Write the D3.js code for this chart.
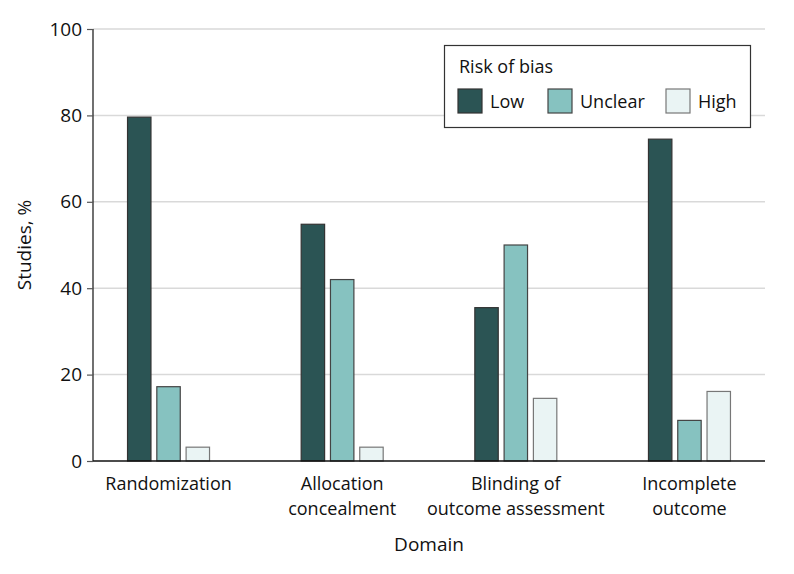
<!DOCTYPE html>
<html><head><meta charset="utf-8">
<script src="https://cdn.jsdelivr.net/npm/d3@7"></script>
<style>body{margin:0;background:#fff}svg{display:block}text{font-family:"Open Sans",sans-serif;fill:#111}</style>
</head><body><svg id="c" width="794" height="574"></svg>
<script>
const categories = [["Randomization"], ["Allocation", "concealment"], ["Blinding of", "outcome assessment"], ["Incomplete", "outcome"]];
const series = ["Low", "Unclear", "High"];
const lowValues = [79.6, 54.8, 35.5, 74.5];
const unclearValues = [17.2, 42.0, 50.0, 9.4];
const highValues = [3.2, 3.2, 14.5, 16.1];
const yTicks = [0, 20, 40, 60, 80, 100];
const colors = {Low: "#2b5454", Unclear: "#86c2c0", High: "#eaf4f4"};
const strokes = {Low: "#333", Unclear: "#444", High: "#777"};

const svg = d3.select("#c");
const L = 93, R = 765, T = 29, B = 461;
const catKeys = categories.map(c => c.join(" "));
const x0 = d3.scalePoint().domain(catKeys).range([L, R]).padding(0.435);
const x1 = d3.scaleBand().domain(series).range([-41, 41]).paddingInner(0.2);
const y = d3.scaleLinear().domain([0, 100]).range([B, T]);
const valuesBy = {Low: lowValues, Unclear: unclearValues, High: highValues};

// gridlines
svg.append("g").selectAll("line").data(yTicks.filter(d => d > 0)).join("line")
  .attr("x1", L).attr("x2", R).attr("y1", d => y(d)).attr("y2", d => y(d))
  .attr("stroke", "#d9d9d9").attr("stroke-width", 1.5);

// y axis
const ya = svg.append("g").attr("transform", `translate(${L},0)`)
  .call(d3.axisLeft(y).tickValues(yTicks).tickSize(6).tickPadding(5));
ya.select(".domain").attr("stroke", "#111").attr("stroke-width", 1.2).attr("d", `M0,${T}V${B}`);
ya.selectAll(".tick line").attr("stroke", "#555").attr("stroke-width", 1.2);
ya.selectAll(".tick text").attr("font-size", 19).attr("font-family", "'Open Sans',sans-serif").attr("fill", "#111");

// bars
const data = [];
catKeys.forEach((c, i) => series.forEach(s => data.push({c, s, v: valuesBy[s][i]})));
svg.append("g").selectAll("rect").data(data).join("rect")
  .attr("x", d => x0(d.c) + x1(d.s)).attr("width", x1.bandwidth())
  .attr("y", d => y(d.v)).attr("height", d => y(0) - y(d.v))
  .attr("fill", d => colors[d.s]).attr("stroke", d => strokes[d.s]).attr("stroke-width", 1.2);

// x axis line
svg.append("line").attr("x1", L).attr("x2", R).attr("y1", B).attr("y2", B).attr("stroke", "#111").attr("stroke-width", 1.5);

// category labels
categories.forEach((lines, i) => {
  const t = svg.append("text").attr("x", x0(catKeys[i])).attr("y", 490).attr("text-anchor", "middle").attr("font-size", 18);
  lines.forEach((ln, j) => t.append("tspan").attr("x", x0(catKeys[i])).attr("dy", j === 0 ? 0 : 25).text(ln));
});

// axis titles
svg.append("text").attr("x", (L + R) / 2).attr("y", 551).attr("text-anchor", "middle").attr("font-size", 19).text("Domain");
svg.append("text").attr("transform", `translate(31,${(T + B) / 2}) rotate(-90)`).attr("text-anchor", "middle").attr("font-size", 19).text("Studies, %");

// legend
const lg = svg.append("g");
lg.append("rect").attr("x", 444.5).attr("y", 45.5).attr("width", 306).attr("height", 82).attr("fill", "#fff").attr("stroke", "#333").attr("stroke-width", 1.2);
lg.append("text").attr("x", 459).attr("y", 73).attr("font-size", 18).text("Risk of bias");
const lx = [458, 548, 666];
series.forEach((s, i) => {
  lg.append("rect").attr("x", lx[i]).attr("y", 89).attr("width", 24).attr("height", 24)
    .attr("fill", colors[s]).attr("stroke", strokes[s]).attr("stroke-width", 1.2);
  lg.append("text").attr("x", lx[i] + 32).attr("y", 108).attr("font-size", 18).text(s);
});
</script></body></html>
